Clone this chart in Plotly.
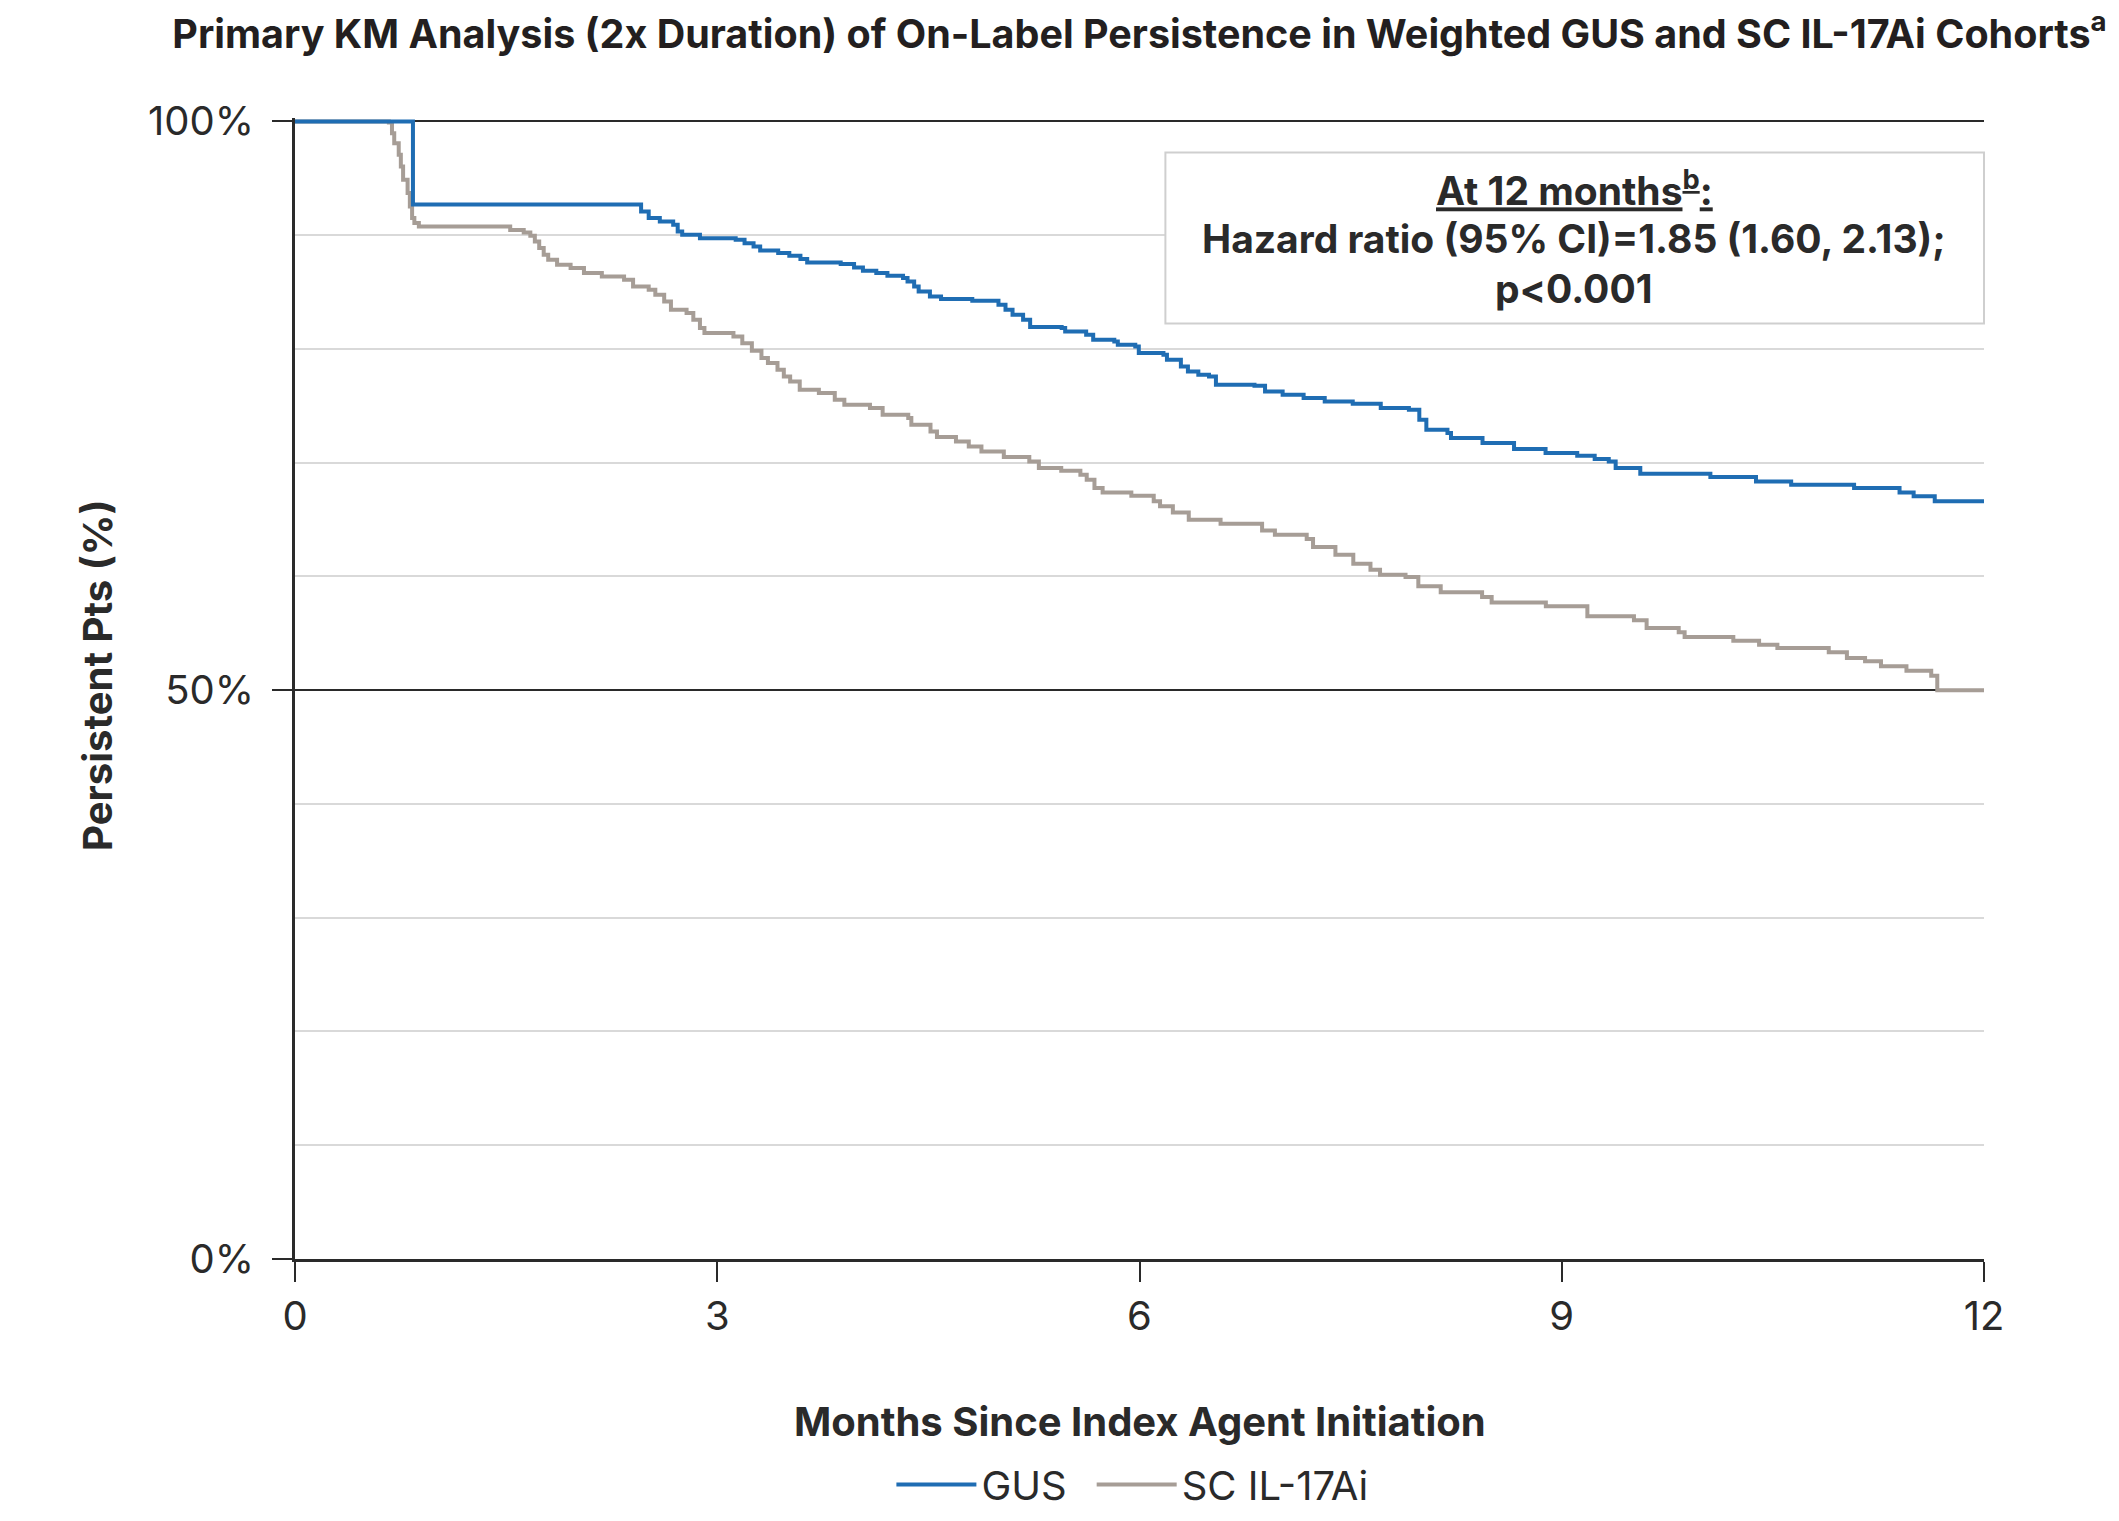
import plotly.graph_objects as go

# ---------------- data ----------------
gus_months = [0, 0.838, 2.459, 2.513, 2.592, 2.687, 2.719, 2.751, 2.877, 3.131,
              3.194, 3.258, 3.305, 3.433, 3.512, 3.591, 3.639, 3.877, 3.972, 4.035,
              4.13, 4.209, 4.32, 4.352, 4.399, 4.431, 4.511, 4.59, 4.812, 4.998,
              5.048, 5.098, 5.173, 5.223, 5.447, 5.472, 5.621, 5.671, 5.821, 5.846,
              5.97, 5.995, 6.17, 6.195, 6.294, 6.344, 6.418, 6.494, 6.543, 6.817,
              6.892, 7.017, 7.166, 7.316, 7.515, 7.714, 7.914, 7.988, 8.038, 8.188,
              8.213, 8.437, 8.661, 8.885, 9.11, 9.234, 9.334, 9.383, 9.558, 10.056,
              10.38, 10.63, 11.077, 11.4, 11.5, 11.65, 12]
gus_persist = [100, 92.7, 92.08, 91.5, 91.2, 90.91, 90.33, 90.03, 89.74, 89.59,
               89.3, 89.01, 88.65, 88.43, 88.19, 87.9, 87.6, 87.46, 87.16, 86.87,
               86.67, 86.43, 86.23, 85.93, 85.49, 85.05, 84.61, 84.38, 84.23, 83.88,
               83.44, 83.0, 82.56, 81.92, 81.83, 81.54, 81.25, 80.81, 80.66, 80.37,
               80.22, 79.64, 79.49, 79.05, 78.46, 78.02, 77.73, 77.58, 76.85, 76.76,
               76.26, 75.97, 75.68, 75.38, 75.18, 74.8, 74.65, 73.78, 72.9, 72.61,
               72.17, 71.73, 71.2, 70.85, 70.61, 70.32, 70.11, 69.53, 69.03, 68.74,
               68.35, 68.06, 67.77, 67.39, 67.04, 66.6, 66.6]

sc_months = [0, 0.667, 0.689, 0.705, 0.737, 0.752, 0.768, 0.8, 0.816, 0.832,
             0.848, 0.88, 1.529, 1.625, 1.672, 1.704, 1.735, 1.767, 1.799, 1.862,
             1.958, 2.053, 2.18, 2.338, 2.402, 2.513, 2.56, 2.623, 2.671, 2.782,
             2.83, 2.877, 2.909, 3.115, 3.178, 3.246, 3.314, 3.36, 3.428, 3.473,
             3.518, 3.586, 3.722, 3.835, 3.903, 4.085, 4.175, 4.357, 4.379, 4.515,
             4.561, 4.696, 4.787, 4.877, 5.036, 5.217, 5.285, 5.444, 5.58, 5.625,
             5.68, 5.738, 5.942, 6.101, 6.146, 6.237, 6.35, 6.576, 6.871, 6.962,
             7.188, 7.233, 7.392, 7.519, 7.641, 7.709, 7.89, 7.981, 8.14, 8.434,
             8.502, 8.887, 9.182, 9.513, 9.603, 9.831, 9.873, 10.219, 10.402, 10.532,
             10.897, 11.026, 11.155, 11.268, 11.449, 11.625, 11.668, 12]
sc_persist = [100, 99.9, 98.97, 98.09, 97.06, 96.04, 94.87, 93.7, 92.52, 91.5,
              91.06, 90.76, 90.45, 90.24, 89.95, 89.45, 88.87, 88.28, 87.84, 87.4,
              87.11, 86.67, 86.37, 86.08, 85.49, 85.2, 84.76, 84.17, 83.44, 83.15,
              82.56, 81.83, 81.39, 81.1, 80.5, 79.85, 79.2, 78.76, 78.17, 77.58,
              77.14, 76.41, 76.12, 75.53, 75.09, 74.8, 74.22, 73.93, 73.34, 72.75,
              72.25, 71.87, 71.43, 70.99, 70.5, 70.11, 69.53, 69.29, 68.94, 68.5,
              67.77, 67.39, 67.1, 66.6, 66.16, 65.63, 64.99, 64.64, 64.05, 63.67,
              63.29, 62.59, 61.91, 61.12, 60.59, 60.15, 59.95, 59.13, 58.6, 58.19,
              57.72, 57.37, 56.5, 56.14, 55.47, 55.09, 54.68, 54.35, 54.0, 53.71,
              53.33, 52.83, 52.54, 52.1, 51.72, 51.28, 50.0, 50.0]

series_names = ["GUS", "SC IL-17Ai"]
x_tick_vals = [0, 3, 6, 9, 12]
y_tick_vals = [0, 50, 100]
y_tick_text = ["0%", "50%", "100%"]

title_text = ("Primary KM Analysis (2x Duration) of On-Label Persistence in "
              "Weighted GUS and SC IL-17Ai Cohorts<sup>a</sup>")
x_title = "Months Since Index Agent Initiation"
y_title = "Persistent Pts (%)"
box_lines = ["<u>At 12 months<sup>b</sup>:</u>",
             "Hazard ratio (95% CI)=1.85 (1.60, 2.13);",
             "p<0.001"]

# ---------------- styling ----------------
FONT = "Inter"
DARK = "#2a2a2a"
BLUE = "#1f6db3"
GRAY = "#a69d96"
GRID = "#d9d9d9"

W, H = 2103, 1505          # page body has an 8px margin; keep page inside the window
PH = 1141                  # plot height in px
PW = 1689                  # plot width in px
T, L = 110, 287


def py(full_y):            # reference pixel row -> paper y
    return (1259.5 - full_y) / PH


def px(full_x):            # reference pixel column -> paper x
    return (full_x - 294.6) / PW


fig = go.Figure()
fig.add_trace(go.Scatter(x=sc_months, y=sc_persist, mode="lines", name=series_names[1],
                         line=dict(color=GRAY, width=4, shape="hv")))
fig.add_trace(go.Scatter(x=gus_months, y=gus_persist, mode="lines",
                         name=series_names[0] + "\u2002",
                         line=dict(color=BLUE, width=4, shape="hv")))

fig.update_layout(
    width=W, height=H,
    margin=dict(l=L, r=W - L - PW, t=T, b=H - T - PH, autoexpand=False),
    paper_bgcolor="white", plot_bgcolor="white",
    font=dict(family=FONT, color=DARK, size=38),
    title=dict(text=title_text, x=0.5, xref="paper", xanchor="center",
               y=1 - 26 / H, yref="container", yanchor="middle",
               font=dict(family=FONT, size=39.5, weight=700, color="#231f20")),
    showlegend=True,
    legend=dict(orientation="h", x=px(1132), xanchor="center", y=py(1485), yanchor="middle",
                font=dict(family=FONT, size=40, color=DARK), traceorder="reversed",
                itemwidth=80, bgcolor="rgba(0,0,0,0)"),
    xaxis=dict(range=[0, 12], tickvals=x_tick_vals, ticks="outside", ticklen=20,
               tickwidth=2, tickcolor=DARK, showline=True, linecolor=DARK, linewidth=3,
               showgrid=False, zeroline=False, tickfont=dict(size=40, color=DARK),
               ticklabelstandoff=0),
    yaxis=dict(range=[0, 100.3], tickvals=y_tick_vals, ticktext=y_tick_text,
               ticks="outside", ticklen=20, tickwidth=2, tickcolor=DARK,
               showline=True, linecolor=DARK, linewidth=3,
               showgrid=True, gridcolor=DARK, gridwidth=2, zeroline=False,
               tickfont=dict(size=40, color=DARK), ticklabelstandoff=10,
               minor=dict(dtick=10, showgrid=True, gridcolor=GRID, gridwidth=2, ticks="")),
)

# axis titles
fig.add_annotation(text=x_title, xref="paper", yref="paper", x=0.5, y=py(1422),
                   xanchor="center", yanchor="middle", showarrow=False,
                   font=dict(family=FONT, size=40, weight=700, color=DARK))
fig.add_annotation(text=y_title, xref="paper", yref="paper", x=px(97), y=py(676),
                   textangle=-90, xanchor="center", yanchor="middle", showarrow=False,
                   font=dict(family=FONT, size=40, weight=700, color=DARK))

# annotation box
fig.add_shape(type="rect", xref="paper", yref="paper",
              x0=px(1165), x1=1.0, y0=py(324), y1=py(153),
              line=dict(color="#cfcfcf", width=2), fillcolor="white", layer="above")
for txt, yc in zip(box_lines, [189, 239, 289]):
    fig.add_annotation(text=txt, xref="paper", yref="paper", x=px(1574), y=py(yc),
                       xanchor="center", yanchor="middle", showarrow=False,
                       font=dict(family=FONT, size=39, weight=700, color=DARK))

fig.write_html("out.html")
